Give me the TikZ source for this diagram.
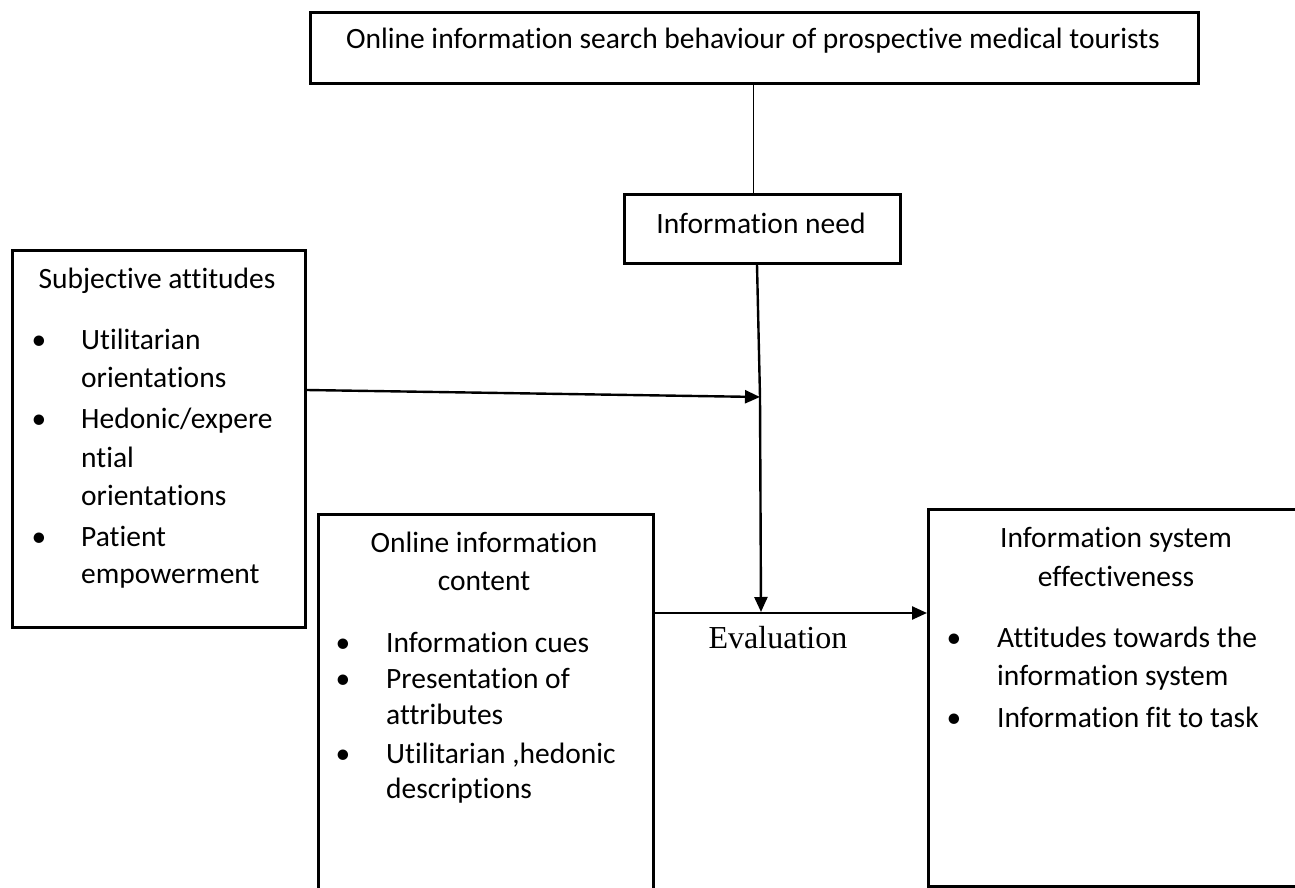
\documentclass[tikz,border=0pt]{standalone}
\usepackage{fontspec}
\setmainfont{Carlito}[Ligatures={NoCommon,NoContextual}]
\newfontfamily\timesf{Liberation Serif}
\usetikzlibrary{arrows.meta}
\begin{document}
\begin{tikzpicture}[x=1pt,y=-1pt,
  box/.style={draw, line width=2.6pt, rectangle, inner sep=0pt, anchor=north west},
  txt/.style={font=\fontsize{29.5}{35}\selectfont, inner sep=0pt, anchor=base west},
  ctr/.style={font=\fontsize{29.5}{35}\selectfont, inner sep=0pt, anchor=base},
  bul/.style={font=\fontsize{29.5}{35}\selectfont, inner sep=0pt, anchor=base},
  arr/.style={line width=2.4pt, -{Triangle[length=15pt,width=13pt]}}]
\useasboundingbox (0,0) rectangle (1295,888);
% boxes
\node[box, minimum width=888, minimum height=71] (top) at (309,11) {};
\node[box, minimum width=276, minimum height=69] (need) at (623,193) {};
\node[box, minimum width=293, minimum height=377] (subj) at (11,249) {};
\node[box, minimum width=335, minimum height=390] (cont) at (317,513) {};
\node[box, minimum width=400, minimum height=377] (eff) at (927,508) {};
% texts
\node[ctr] (ttop) at (753,49) {Online information search behaviour of prospective medical tourists};
\node[ctr] (tneed) at (761,233) {Information need};
\node[ctr] (tsubj) at (157,288) {Subjective attitudes};
\node[bul] (bs1) at (39,349) {\textbullet};
\node[txt] (s1) at (81,349) {Utilitarian};
\node[txt] (s2) at (81,387) {orientations};
\node[bul] (bs2) at (39,428) {\textbullet};
\node[txt] (s3) at (81,428) {Hedonic/expere};
\node[txt] (s4) at (81,467) {ntial};
\node[txt] (s5) at (81,505) {orientations};
\node[bul] (bs3) at (39,546) {\textbullet};
\node[txt] (s6) at (81,546) {Patient};
\node[txt] (s7) at (81,583) {empowerment};
\node[ctr] (tcont1) at (484,552) {Online information};
\node[ctr] (tcont2) at (484,590) {content};
\node[bul] (bc1) at (343,652) {\textbullet};
\node[txt] (c1) at (386,652) {Information cues};
\node[bul] (bc2) at (343,688) {\textbullet};
\node[txt] (c2) at (386,688) {Presentation of};
\node[txt] (c3) at (386,724) {attributes};
\node[bul] (bc3) at (343,763) {\textbullet};
\node[txt] (c4) at (386,763) {Utilitarian ,hedonic};
\node[txt] (c5) at (386,798) {descriptions};
\node[ctr] (teff1) at (1116,547) {Information system};
\node[ctr] (teff2) at (1116,586) {effectiveness};
\node[bul] (be1) at (954,647) {\textbullet};
\node[txt] (e1) at (997,647) {Attitudes towards the};
\node[txt] (e2) at (997,685) {information system};
\node[bul] (be2) at (954,727) {\textbullet};
\node[txt] (e3) at (997,727) {Information fit to task};
\node[font=\timesf\fontsize{32}{38}\selectfont, inner sep=0pt, anchor=base] (eval) at (778,648) {Evaluation};
% connectors
\coordinate (meet) at (760,397);
\coordinate (evtip) at (761,612);
\draw[line width=1pt] (top.south -| 753,0) -- (need.north -| 753,0);
\draw[arr] ([yshift=-141pt]subj.north east) -- (meet);
\draw[line width=2.4pt] (need.south -| 757,0) -- (meet);
\draw[arr] (meet) -- (evtip);
\draw[arr] (cont.north east |- 0,613) -- (eff.north west |- 0,613);
\end{tikzpicture}
\end{document}
